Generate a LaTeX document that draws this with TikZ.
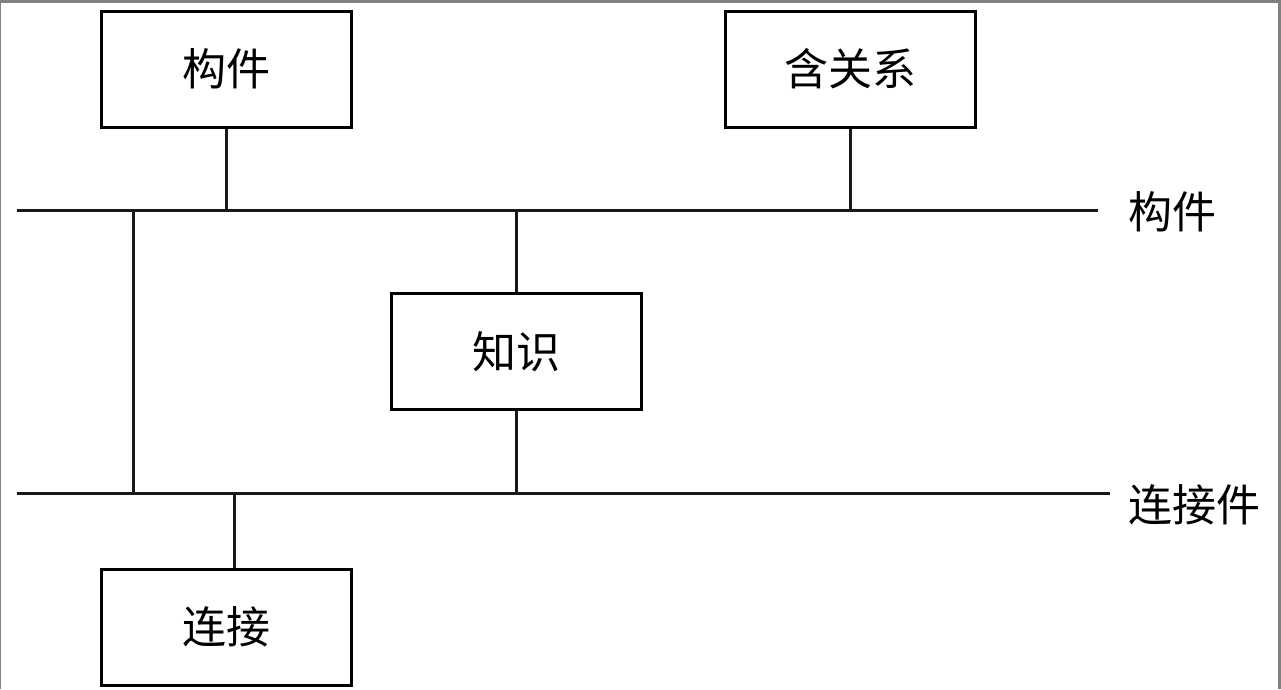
\documentclass[tikz,border=0pt]{standalone}
\usepackage{fontspec}
\newfontfamily\cjk{Noto Sans CJK SC}
\begin{document}
\begin{tikzpicture}[x=1pt,y=-1pt,
  box/.style={draw=black,line width=3pt,minimum width=250pt,minimum height=116pt,inner sep=0pt,font=\cjk\fontsize{44}{50}\selectfont},
  lbl/.style={font=\cjk\fontsize{44}{50}\selectfont,inner sep=0pt,anchor=west},
  ln/.style={line width=3pt,draw=black!90}]
\useasboundingbox (0,0) rectangle (1281,689);
\fill[white] (0,0) rectangle (1281,689);
\fill[gray] (0,0) rectangle (1281,3);
\fill[gray] (1278,0) rectangle (1281,689);
\fill[gray] (0,0) rectangle (1,689);
\node[box] (gj) at (226,69) {构件};
\node[box] (hgx) at (850,69) {含关系};
\node[box] (zs) at (516.5,351.5) {知识};
\node[box] (lj) at (226.5,627) {连接};
\coordinate (b1l) at (17,210);
\coordinate (b1r) at (1098,210);
\coordinate (b2l) at (17,493);
\coordinate (b2r) at (1110,493);
\node[lbl] (bus1) at (1128,212) {构件};
\node[lbl] (bus2) at (1128,505) {连接件};
\draw[ln] (b1l) -- (b1r);
\draw[ln] (b2l) -- (b2r);
\draw[ln] (gj.south) -- (gj.south |- b1l);
\draw[ln] (hgx.south) -- (hgx.south |- b1l);
\draw[ln] (133,210) -- (133,493);
\draw[ln] (zs.north) -- (zs.north |- b1l);
\draw[ln] (zs.south) -- (zs.south |- b2l);
\draw[ln] (lj.north -| 234,0) -- (234,493);
\end{tikzpicture}
\end{document}
